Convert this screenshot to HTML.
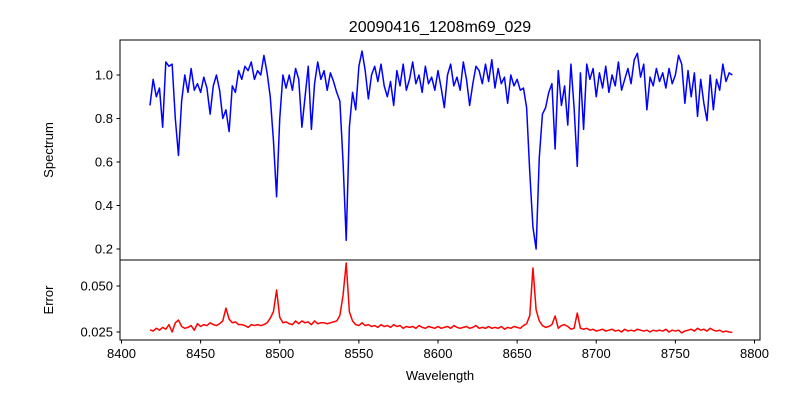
<!DOCTYPE html>
<html><head><meta charset="utf-8"><style>
body{margin:0;background:#fff}
svg{font-family:"Liberation Sans","DejaVu Sans",sans-serif}
</style></head><body>
<svg id="chart" width="800" height="400" viewBox="0 0 800 400" xmlns="http://www.w3.org/2000/svg">
<rect width="800" height="400" fill="#fff"/>
<text x="440" y="32" font-size="16" text-anchor="middle">20090416_1208m69_029</text>
<g id="topPanel"></g>
<g id="botPanel"></g>
<text x="440" y="380" font-size="13" text-anchor="middle">Wavelength</text>
<text transform="translate(53,150) rotate(-90)" font-size="13" text-anchor="middle">Spectrum</text>
<text transform="translate(53,300) rotate(-90)" font-size="13" text-anchor="middle">Error</text>
</svg>
<script>
const wStart = 8418, wStep = 2;
const flux = [0.86,0.98,0.90,0.94,0.76,1.06,1.04,1.05,0.80,0.63,0.88,1.00,0.92,1.03,0.93,0.96,0.92,0.99,0.94,0.82,0.95,1.00,0.93,0.80,0.84,0.74,0.95,0.92,1.02,0.98,1.04,1.02,1.06,0.98,1.02,1.00,1.09,1.01,0.90,0.70,0.44,0.80,1.00,0.94,1.00,0.93,1.03,0.98,0.76,0.90,1.04,0.75,0.96,1.06,0.98,1.02,0.93,1.01,0.97,0.92,0.88,0.60,0.24,0.76,0.92,0.84,1.04,1.11,1.02,0.89,1.00,1.04,0.97,1.05,0.95,0.90,0.97,0.86,1.02,0.95,1.05,0.93,0.98,1.06,0.96,1.00,0.92,1.04,0.96,0.99,0.93,1.02,0.94,0.85,1.00,1.05,0.95,0.99,0.93,1.06,0.98,0.86,0.96,1.04,1.02,0.96,1.05,0.97,1.07,0.94,1.03,0.96,0.99,0.87,1.00,0.95,0.98,0.93,0.94,0.85,0.55,0.30,0.20,0.62,0.82,0.85,0.92,0.96,0.66,1.02,0.86,0.95,0.77,1.05,0.85,0.58,1.01,0.75,1.05,0.98,1.03,0.90,1.01,0.94,1.04,0.92,1.00,0.95,1.06,0.93,0.98,1.03,0.96,1.07,1.10,0.99,1.05,0.84,0.99,0.95,1.03,0.97,1.01,0.94,1.03,0.96,1.00,1.09,1.05,0.87,1.02,0.90,1.01,0.81,0.98,0.87,0.79,1.00,0.84,0.98,0.93,1.05,0.97,1.01,1.00];
const err = [.0262,.0255,.027,.026,.0275,.0265,.029,.025,.030,.0315,.028,.027,.0275,.0285,.026,.0295,.028,.029,.0285,.0300,.0290,.0285,.0295,.031,.038,.032,.030,.0305,.029,.0290,.0285,.0275,.029,.0285,.0290,.0285,.0290,.030,.0325,.036,.0478,.033,.030,.0305,.0295,.029,.031,.0295,.031,.0300,.0305,.029,.0310,.0295,.030,.0300,.0295,.0300,.0305,.031,.034,.045,.0625,.036,.031,.0290,.0285,.030,.0285,.0290,.0280,.0285,.0275,.029,.028,.0285,.0275,.029,.0280,.0285,.027,.028,.0275,.028,.027,.0285,.0275,.027,.028,.0275,.0270,.0280,.0270,.0275,.0280,.027,.0285,.0275,.0270,.0275,.0280,.0270,.0275,.0285,.027,.0275,.0270,.0280,.0270,.0275,.0270,.0280,.0265,.0275,.0270,.0280,.0275,.0270,.0285,.0295,.034,.0598,.037,.031,.0285,.0275,.0280,.029,.0337,.027,.0285,.029,.028,.0265,.0270,.0353,.027,.0265,.0270,.0260,.0265,.0255,.0260,.0265,.0255,.0260,.0265,.0255,.0260,.0250,.0265,.0255,.0260,.0255,.0265,.0260,.0255,.0260,.0250,.0260,.0255,.0260,.0255,.0265,.0250,.0260,.0255,.0260,.0245,.0255,.0260,.0265,.0255,.0270,.0260,.0265,.0255,.0270,.0260,.0255,.0260,.0250,.0255,.0250,.0248];
const xTicks = [8400,8450,8500,8550,8600,8650,8700,8750,8800];
const fluxTicks = [0.2,0.4,0.6,0.8,1.0];
const fluxTickLabels = ["0.2","0.4","0.6","0.8","1.0"];
const errTicks = [0.025,0.050];
const errTickLabels = ["0.025","0.050"];

const NS = "http://www.w3.org/2000/svg";
const L = 120, R = 760;
const xS = w => 121.5 + (w - 8400) * 1.5825;
const yF = f => 75 + (1 - f) * 217.5;
const yE = e => 286 - (e - 0.05) / 0.025 * 46;
function mk(tag, attrs, parent){const e=document.createElementNS(NS,tag);for(const k in attrs)e.setAttribute(k,attrs[k]);parent.appendChild(e);return e;}
const topG = document.getElementById('topPanel'), botG = document.getElementById('botPanel');

function panel(g, y0, y1, vals, yFn, color, ticks, labels, nameBase){
  let d = "";
  vals.forEach((v,i)=>{d += (i?"L":"M") + xS(wStart+i*wStep).toFixed(2) + "," + yFn(v).toFixed(2);});
  const p = mk('path',{d:d,fill:'none',stroke:color,'stroke-width':1.5,'stroke-linejoin':'round'},g);
  
  
  const fr = mk('rect',{x:L,y:y0,width:R-L,height:y1-y0,fill:'none',stroke:'#000','stroke-width':1},g);
  
  
  ticks.forEach((t,i)=>{
    const y = yFn(t);
    const tk = mk('line',{x1:L-3.5,x2:L,y1:y,y2:y,stroke:'#000'},g);
    
    
    const tx = mk('text',{x:L-7,y:y+4.5,'font-size':13,'text-anchor':'end'},g);
    tx.textContent = labels[i];
    
    
  });
}
panel(topG, 40, 260, flux, yF, '#0000ff', fluxTicks, fluxTickLabels, 'spectrum');
panel(botG, 260, 340, err, yE, '#ff0000', errTicks, errTickLabels, 'error');
xTicks.forEach(t=>{
  const x = xS(t);
  const tk = mk('line',{x1:x,x2:x,y1:340,y2:343.5,stroke:'#000'},botG);
  
  
  const tx = mk('text',{x:x,y:358,'font-size':13,'text-anchor':'middle'},botG);
  tx.textContent = String(t);
  
  
});
</script>
</body></html>
